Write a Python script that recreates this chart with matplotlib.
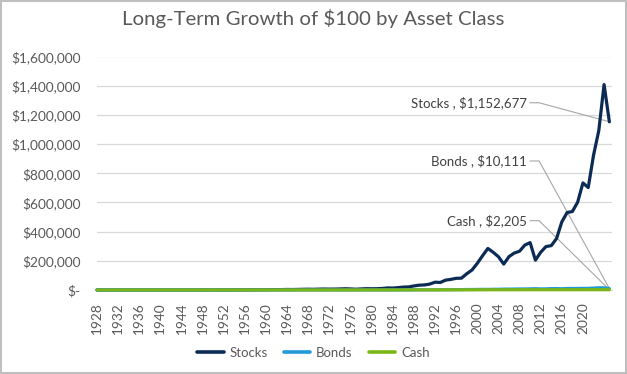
import numpy as np
import matplotlib.pyplot as plt
from matplotlib.patches import Rectangle
from matplotlib.ticker import FuncFormatter

plt.rcParams['font.family'] = ['Lato', 'DejaVu Sans']

# growth of $100, one value per year on the chart's category axis
stocks = [100, 112, 154, 220, 202, 152, 86, 79, 121, 120,
          177, 237, 154, 202, 201, 181, 160, 193, 243, 291,
          397, 365, 385, 407, 483, 636, 789, 934, 925, 1411,
          1857, 1979, 1765, 2531, 2833, 2847, 3612, 3297, 4049, 4715,
          5303, 4769, 5913, 6567, 6009, 6250, 7144, 8500, 7254, 5334,
          7318, 9060, 8410, 8961, 10614, 14055, 13365, 16226, 19881, 21127,
          27922, 33079, 34809, 40660, 53464, 51769, 67584, 72766, 80036, 81084,
          111434, 137142, 182893, 235164, 284642, 258722, 227980, 177597, 228532, 253396,
          265828, 307803, 324693, 204557, 258683, 297640, 303925, 352553, 466745, 530632,
          537957, 602311, 733826, 701727, 922700, 1092477, 1407600, 1152677]
bonds = [100, 108, 117, 118, 122, 127, 120, 141, 141, 155,
         162, 175, 175, 185, 196, 208, 210, 216, 221, 227,
         251, 251, 245, 253, 269, 269, 259, 262, 271, 291,
         287, 271, 291, 273, 267, 304, 307, 328, 332, 344,
         346, 359, 326, 325, 309, 346, 392, 414, 409, 427,
         466, 545, 541, 534, 528, 507, 516, 725, 729, 842,
         1103, 1374, 1337, 1466, 1731, 1838, 2193, 2370, 2802, 2584,
         3402, 3371, 3905, 4415, 4019, 4883, 5064, 5967, 6054, 6569,
         7082, 7166, 7874, 8900, 7600, 8100, 9450, 9770, 8520, 10630,
         10560, 10740, 11410, 11410, 13020, 15320, 14620, 10111]
cash = [100, 103, 107, 110, 115, 118, 119, 120, 120, 121,
        121, 121, 121, 121, 122, 122, 122, 122, 122, 123,
        123, 124, 124, 126, 127, 129, 131, 133, 135, 136,
        139, 142, 147, 149, 153, 157, 161, 165, 170, 176,
        183, 192, 200, 211, 224, 239, 249, 259, 278, 300,
        317, 333, 350, 375, 412, 459, 527, 584, 635, 697,
        752, 798, 842, 896, 971, 1046, 1106, 1145, 1178, 1225,
        1293, 1359, 1429, 1498, 1565, 1657, 1721, 1750, 1768, 1789,
        1843, 1930, 2015, 2044, 2047, 2049, 2051, 2052, 2053, 2053,
        2054, 2060, 2079, 2119, 2163, 2173, 2174, 2205]

series_names = ['Stocks', 'Bonds', 'Cash']
tick_labels = ['1928', '1932', '1936', '1940', '1944', '1948', '1952', '1956',
               '1960', '1964', '1968', '1972', '1976', '1980', '1984', '1988',
               '1992', '1996', '2000', '2004', '2008', '2012', '2016', '2020']
y_ticks = [0, 200000, 400000, 600000, 800000, 1000000, 1200000, 1400000, 1600000]

colors = ['#0c2b54', '#1f9ad6', '#7cb518']
text_color = '#595959'

fig = plt.figure(figsize=(6.27, 3.74), dpi=100)
ax = fig.add_axes([97 / 627, 1 - 290 / 374, 515 / 627, 233.5 / 374])

x = np.arange(len(stocks))
# later series drawn on top, like the spreadsheet does
for i, (name, vals, c) in enumerate(zip(series_names, [stocks, bonds, cash], colors)):
    ax.plot(x, vals, color=c, lw=2.3, label=name, solid_capstyle='round',
            zorder=3 + i, clip_on=False)

ax.set_xlim(0, len(stocks) - 0.5)
ax.set_ylim(0, 1600000)
ax.set_yticks(y_ticks)
ax.yaxis.set_major_formatter(FuncFormatter(lambda v, p: '$-' if v == 0 else f'${v:,.0f}'))
ax.set_xticks(np.arange(0, 4 * len(tick_labels), 4))
ax.set_xticklabels(tick_labels, rotation=90)
ax.tick_params(axis='y', length=0, pad=12, labelsize=9.8, labelcolor=text_color)
ax.tick_params(axis='x', length=0, pad=9, labelsize=9.8, labelcolor=text_color)
ax.grid(axis='y', color='#d9d9d9', lw=0.9)
ax.set_axisbelow(True)
for s in ['top', 'right', 'left']:
    ax.spines[s].set_visible(False)
ax.spines['bottom'].set_color('#d9d9d9')

# data labels with leader lines to the last point
label_y = [1283000, 884000, 475000]
last = x[-1]
for name, vals, ly in zip(series_names, [stocks, bonds, cash], label_y):
    ax.text(last - 15.7, ly, f'{name} , ${vals[-1]:,.0f}', ha='right', va='center',
            fontsize=9.5, color='#404040')
    ax.plot([last - 15.0, last - 13.3, last], [ly, ly, vals[-1]],
            color='#a6a6a6', lw=0.8, zorder=2)

fig.suptitle('Long-Term Growth of $100 by Asset Class', x=0.5, y=0.975,
             fontsize=14.7, color=text_color)

handles, labels = ax.get_legend_handles_labels()
leg = fig.legend(handles, labels, loc='center', bbox_to_anchor=(0.5, 1 - 353 / 374),
                 ncol=3, frameon=False, fontsize=9.5, labelcolor=text_color,
                 handlelength=2.0, columnspacing=1.2, handletextpad=0.45)
for h in leg.get_lines():
    h.set_linewidth(2.6)

fig.patches.append(Rectangle((0.0015, 0.0025), 0.997, 0.995, transform=fig.transFigure,
                             fill=False, edgecolor='#bfbfbf', lw=1.5))

fig.savefig('out.png', dpi=100)
